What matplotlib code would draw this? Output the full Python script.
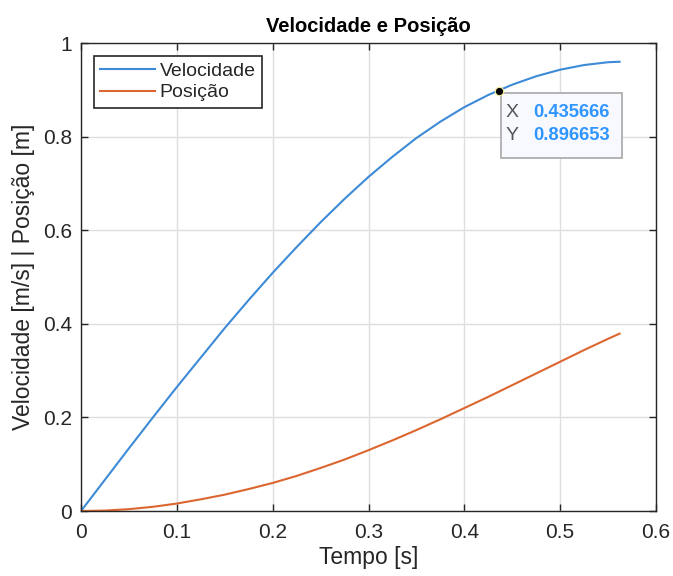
import matplotlib
matplotlib.use("Agg")
import matplotlib.pyplot as plt
from matplotlib.patches import Rectangle
from matplotlib.transforms import ScaledTranslation

# =============================================================================
# DATA
# =============================================================================

TEMPO = [0.0, 0.025, 0.05, 0.075, 0.1, 0.125, 0.15, 0.175, 0.2, 0.225, 0.25,
         0.275, 0.3, 0.325, 0.35, 0.375, 0.4, 0.425, 0.45, 0.475, 0.5, 0.525,
         0.55, 0.562]
VELOCIDADE = [0.0, 0.067, 0.134, 0.200, 0.265, 0.328, 0.391, 0.451, 0.509,
              0.564, 0.617, 0.667, 0.714, 0.757, 0.797, 0.832, 0.863, 0.889,
              0.911, 0.929, 0.943, 0.953, 0.959, 0.960]
POSICAO = [0.0, 0.001, 0.004, 0.009, 0.016, 0.025, 0.035, 0.047, 0.060, 0.075,
           0.092, 0.110, 0.130, 0.151, 0.173, 0.196, 0.220, 0.244, 0.269,
           0.294, 0.319, 0.344, 0.368, 0.379]

TIP_X = 0.435666
TIP_Y = 0.896653

X_TICKS = [0, 0.1, 0.2, 0.3, 0.4, 0.5, 0.6]
X_LABELS = ["0", "0.1", "0.2", "0.3", "0.4", "0.5", "0.6"]
Y_TICKS = [0, 0.2, 0.4, 0.6, 0.8, 1.0]
Y_LABELS = ["0", "0.2", "0.4", "0.6", "0.8", "1"]

# =============================================================================
# STYLE
# =============================================================================

plt.rcParams['font.family'] = ['Liberation Sans', 'DejaVu Sans']
DARK = "#262626"
BLUE = "#3d8ad6"
ORANGE = "#dc6630"

fig = plt.figure(figsize=(6.73, 5.76), dpi=100)
ax = fig.add_axes([0.1204, 0.1128, 0.8543, 0.8125])

ax.plot(TEMPO, VELOCIDADE, color=BLUE, lw=1.5, label="Velocidade")
ax.plot(TEMPO, POSICAO, color=ORANGE, lw=1.5, label="Posição")

ax.set_xlim(0, 0.6)
ax.set_ylim(0, 1)
ax.set_xticks(X_TICKS)
ax.set_xticklabels(X_LABELS)
ax.set_yticks(Y_TICKS)
ax.set_yticklabels(Y_LABELS)

ax.grid(True, color="#dedede", lw=1.0)
ax.set_axisbelow(True)
ax.tick_params(direction="in", length=5, width=1.0, colors=DARK,
               labelsize=15, top=True, right=True)
ax.tick_params(axis="x", pad=8.5)
ax.tick_params(axis="y", pad=6.5)
for sp in ax.spines.values():
    sp.set_color(DARK)
    sp.set_linewidth(1.0)

ax.set_xlabel("Tempo [s]", fontsize=16.5, color=DARK, labelpad=3)
ax.set_ylabel("Velocidade [m/s] | Posição [m]", fontsize=16.5, color=DARK,
              labelpad=6)
ax.set_title("Velocidade e Posição", fontsize=14.5, fontweight="bold",
             color="black", pad=8)

leg = ax.legend(loc="upper left", fontsize=14, frameon=True, fancybox=False,
                borderaxespad=0.67, handlelength=2.8, handletextpad=0.26,
                borderpad=0.32, labelspacing=0.2, edgecolor=DARK,
                framealpha=1)
leg.get_frame().set_linewidth(1.2)
for t in leg.get_texts():
    t.set_color(DARK)

# =============================================================================
# DATATIP (box and text placed in inches relative to the data point)
# =============================================================================

ax.plot([TIP_X], [TIP_Y], "o", color="black", ms=6, mec="#f2eca0", mew=0.8,
        zorder=7)
tip_tr = fig.dpi_scale_trans + ScaledTranslation(TIP_X, TIP_Y, ax.transData)
ax.add_patch(Rectangle((0.022, -0.664), 1.21, 0.65, transform=tip_tr,
                       fc="#f8f8ff", ec="#a8a8a8", lw=1.2, zorder=6,
                       clip_on=False))
rows = [("X", TIP_X, -0.212), ("Y", TIP_Y, -0.443)]
for name, v, dy in rows:
    ax.text(0.135, dy, name, transform=tip_tr, fontsize=14,
            color="#555555", ha="center", va="center", zorder=8)
    ax.text(0.35, dy, f"{v:.6f}", transform=tip_tr, fontsize=13.2,
            color="#2f95ff", fontweight="bold", ha="left", va="center",
            zorder=8)

fig.savefig("out.png", dpi=100, facecolor="white")
